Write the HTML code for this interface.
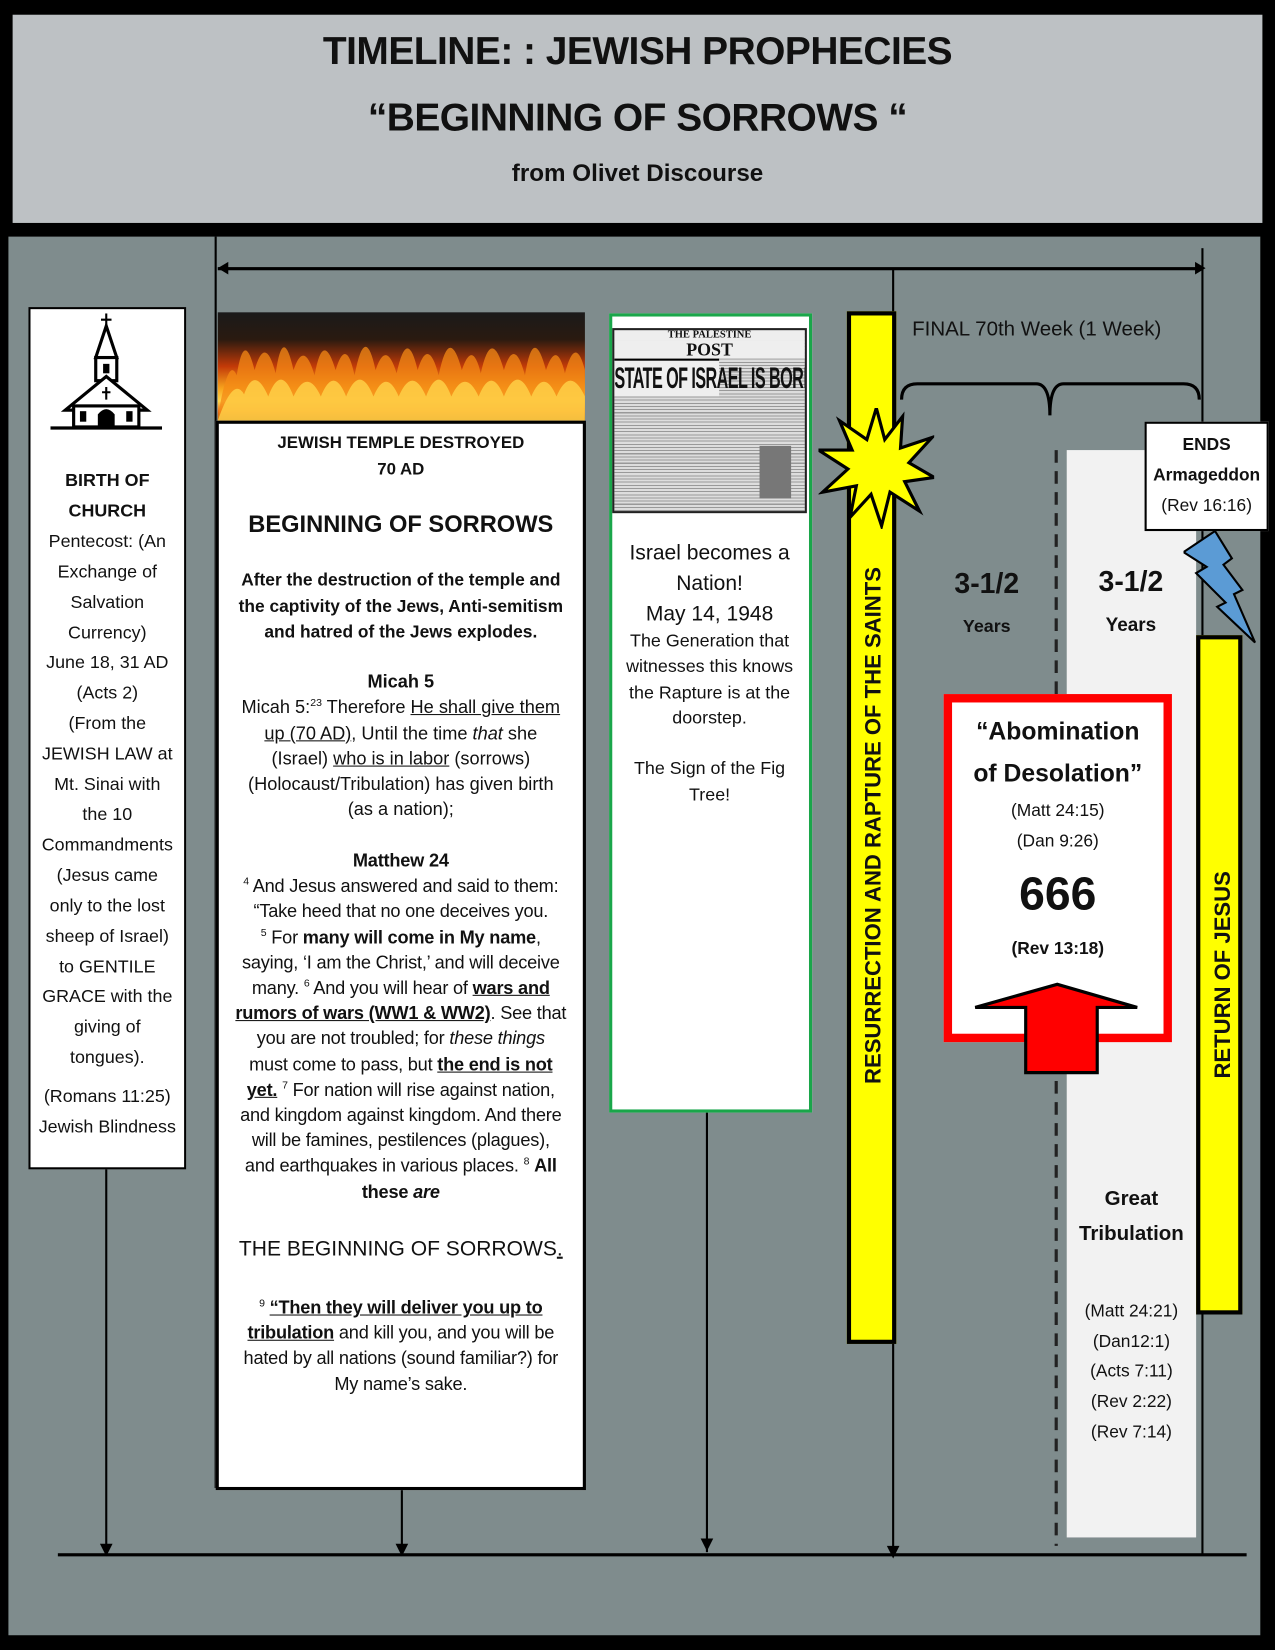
<!DOCTYPE html>
<html><head><meta charset="utf-8">
<style>
html,body{margin:0;padding:0;background:#000;}
body{width:1275px;height:1650px;overflow:hidden;position:relative;}
#w{position:absolute;left:0;top:0;width:1212px;height:1569px;transform:scale(1.052,1.0516);transform-origin:0 0;font-family:"Liberation Sans",sans-serif;color:#111;}
.a{position:absolute;}
.c{text-align:center;}
.b{font-weight:bold;}
.n{white-space:nowrap;}
u{text-decoration:underline;}
sup{font-size:10px;line-height:0;}
.vl{position:absolute;background:#000;width:2px;}
</style></head><body><div id="w">
<div class="a" style="left:12px;top:14px;width:1188px;height:198px;background:#bdc1c4;"></div>
<div class="a c b" style="left:12px;top:28px;width:1188px;font-size:37px;letter-spacing:-0.5px;">TIMELINE: : JEWISH PROPHECIES</div>
<div class="a c b" style="left:12px;top:91px;width:1188px;font-size:37px;letter-spacing:-0.5px;">“BEGINNING OF SORROWS “</div>
<div class="a c b" style="left:12px;top:151px;width:1188px;font-size:23px;">from Olivet Discourse</div>
<div class="a" style="left:8px;top:225px;width:1190px;height:1330px;background:#7f8c8d;"></div>
<div class="a" style="left:1014px;top:428px;width:123px;height:1034px;background:#f2f2f2;"></div>
<div class="vl" style="left:204px;top:225px;height:1190px;"></div>
<div class="vl" style="left:1142px;top:236px;height:1242px;"></div>
<div class="vl" style="left:848px;top:255px;height:1220px;"></div>
<div class="a" style="left:207px;top:254px;width:937px;height:3px;background:#000;"></div>
<div class="a" style="left:55px;top:1477px;width:1130px;height:3px;background:#000;"></div>
<div class="vl" style="left:100px;top:1110px;height:368px;"></div>
<div class="vl" style="left:381px;top:1414px;height:64px;"></div>
<div class="vl" style="left:671px;top:1056px;height:420px;"></div>
<svg class="a" style="left:0;top:0" width="1212" height="1569">
<polygon points="207,255 217,249 217,261" fill="#000"/>
<polygon points="1146,255 1136,249 1136,261" fill="#000"/>
<polygon points="101,1480 95,1468 107,1468" fill="#000"/>
<polygon points="382,1480 376,1468 388,1468" fill="#000"/>
<polygon points="672,1475 666,1463 678,1463" fill="#000"/>
<polygon points="849,1482 843,1470 855,1470" fill="#000"/>
<path d="M857,380 Q857,365 872,365 L985,365 Q998,365 998,395 Q998,365 1011,365 L1125,365 Q1140,365 1140,380" fill="none" stroke="#000" stroke-width="3"/>
<line x1="1004" y1="428" x2="1004" y2="1470" stroke="#222" stroke-width="3" stroke-dasharray="12,8"/>
</svg>
<div class="a" style="left:27px;top:292px;width:146px;height:816px;background:#fff;border:2px solid #000;"></div>
<svg class="a" style="left:48px;top:298px" width="108" height="112">
<line x1="53" y1="0" x2="53" y2="14" stroke="#000" stroke-width="2"/><line x1="48" y1="6" x2="58" y2="6" stroke="#000" stroke-width="2"/>
<polygon points="53,12 43,42 63,42" fill="#fff" stroke="#000" stroke-width="3"/>
<rect x="43" y="42" width="20" height="22" fill="#fff" stroke="#000" stroke-width="3"/>
<rect x="50" y="48" width="6" height="9" fill="#000"/>
<polygon points="53,60 14,92 92,92" fill="#fff" stroke="#000" stroke-width="3"/>
<rect x="22" y="88" width="62" height="20" fill="#fff" stroke="#000" stroke-width="3"/>
<path d="M45,108 V96 Q53,86 61,96 V108Z" fill="#000"/>
<rect x="28" y="93" width="6" height="10" fill="#000"/><rect x="72" y="93" width="6" height="10" fill="#000"/>
<line x1="0" y1="109" x2="106" y2="109" stroke="#000" stroke-width="3"/>
<line x1="53" y1="70" x2="53" y2="82" stroke="#000" stroke-width="2"/><line x1="49" y1="75" x2="57" y2="75" stroke="#000" stroke-width="2"/>
</svg>
<div class="a c n" style="left:29px;top:443px;width:146px;font-size:17px;line-height:28.9px;"><b>BIRTH OF<br>CHURCH</b><br>Pentecost: (An<br>Exchange of<br>Salvation<br>Currency)<br>June 18, 31 AD<br>(Acts 2)<br>(From the<br>JEWISH LAW at<br>Mt. Sinai with<br>the 10<br>Commandments<br>(Jesus came<br>only to the lost<br>sheep of Israel)<br>to GENTILE<br>GRACE with the<br>giving of<br>tongues).</div>
<div class="a c n" style="left:29px;top:1029px;width:146px;font-size:17px;line-height:28.9px;">(Romans 11:25)<br>Jewish Blindness</div>
<div class="a" style="left:207px;top:297px;width:349px;height:103px;background:linear-gradient(180deg,#1a1a1a 0%,#2a1a10 25%,#c33a08 50%,#f7a21c 70%,#ffd54a 82%,#e8661a 92%,#3a1a0a 100%);"></div>
<svg class="a" style="left:207px;top:297px" width="349" height="103">
<path d="M0,100 Q10,40 18,60 Q25,15 35,55 Q45,20 55,58 Q62,10 72,55 Q82,25 92,60 Q100,15 112,55 Q122,22 130,60 Q140,8 150,55 Q160,25 170,58 Q180,12 190,55 Q200,22 210,60 Q220,10 232,55 Q242,25 250,58 Q260,12 272,55 Q282,22 292,60 Q300,10 312,55 Q322,25 330,58 Q340,20 349,55 L349,103 L0,103Z" fill="#f48a16" opacity="0.75"/>
<path d="M0,103 Q15,60 25,78 Q35,50 48,80 Q60,48 72,80 Q85,52 98,80 Q110,50 122,80 Q135,48 148,80 Q160,52 172,80 Q185,50 198,80 Q210,48 222,80 Q235,52 248,80 Q260,50 272,80 Q285,48 298,80 Q310,52 322,80 Q335,50 349,80 L349,103Z" fill="#ffd34a" opacity="0.8"/>
</svg>
<div class="a" style="left:205px;top:400px;width:346px;height:1011px;background:#fff;border:3px solid #000;"></div>
<div class="a c b n" style="left:208px;top:409px;width:346px;font-size:16px;line-height:25px;">JEWISH TEMPLE DESTROYED<br>70 AD</div>
<div class="a c b n" style="left:208px;top:484px;width:346px;font-size:22.5px;line-height:30px;">BEGINNING OF SORROWS</div>
<div class="a c b n" style="left:208px;top:540px;width:346px;font-size:16.5px;line-height:24.5px;">After the destruction of the temple and<br>the captivity of the Jews, Anti-semitism<br>and hatred of the Jews explodes.</div>
<div class="a c n" style="left:208px;top:636px;width:346px;font-size:17.3px;line-height:24.3px;"><b>Micah 5</b><br>Micah 5:<sup>23</sup> Therefore <u>He shall give them</u><br><u>up (70 AD)</u>, Until the time <i>that</i> she<br>(Israel) <u>who is in labor</u> (sorrows)<br>(Holocaust/Tribulation) has given birth<br>(as a nation);</div>
<div class="a c n" style="left:208px;top:806px;width:346px;font-size:17.3px;line-height:24.2px;letter-spacing:-0.2px;"><b>Matthew 24</b><br><sup>4</sup> And Jesus answered and said to them:<br>“Take heed that no one deceives you.<br><sup>5</sup> For <b>many will come in My name</b>,<br>saying, ‘I am the Christ,’ and will deceive<br>many. <sup>6</sup> And you will hear of <b><u>wars and</u></b><br><b><u>rumors of wars (WW1 &amp; WW2)</u></b>. See that<br>you are not troubled; for <i>these things</i><br>must come to pass, but <b><u>the end is not</u></b><br><b><u>yet.</u></b> <sup>7</sup> For nation will rise against nation,<br>and kingdom against kingdom. And there<br>will be famines, pestilences (plagues),<br>and earthquakes in various places. <sup>8</sup> <b>All</b><br><b>these <i>are</i></b></div>
<div class="a c n" style="left:208px;top:1175px;width:346px;font-size:20px;line-height:26px;">THE BEGINNING OF SORROWS<u>.</u></div>
<div class="a c n" style="left:208px;top:1231px;width:346px;font-size:17.3px;line-height:24.2px;letter-spacing:-0.2px;"><sup>9</sup> <b><u>“Then they will deliver you up to</u></b><br><b><u>tribulation</u></b> and kill you, and you will be<br>hated by all nations (sound familiar?) for<br>My name’s sake.</div>
<div class="a" style="left:579px;top:298px;width:187px;height:754px;background:#fff;border:3px solid #1aa64a;"></div>
<div class="a" style="left:582px;top:312px;width:185px;height:176px;background:repeating-linear-gradient(180deg,#999 0 1px,#ddd 1px 3px);border:2px solid #222;box-sizing:border-box;overflow:hidden;">
<div class="c" style="font-family:'Liberation Serif',serif;font-weight:bold;font-size:10px;background:#eee;line-height:10px;">THE PALESTINE</div>
<div class="c" style="font-family:'Liberation Serif',serif;font-weight:bold;font-size:17px;background:#eee;line-height:17px;">POST</div>
<div style="font-family:'Liberation Sans',sans-serif;font-weight:bold;font-size:28px;letter-spacing:-1px;transform:scaleX(0.55);transform-origin:0 0;white-space:nowrap;background:#eee;line-height:34px;border-top:2px solid #000;">STATE OF ISRAEL IS BORN</div>
<div style="position:absolute;left:138px;top:110px;width:30px;height:50px;background:#777;"></div>
</div>
<div class="a c n" style="left:582px;top:512px;width:185px;font-size:20px;line-height:29px;">Israel becomes a<br>Nation!<br>May 14, 1948</div>
<div class="a c n" style="left:582px;top:598px;width:185px;font-size:17px;line-height:24.3px;">The Generation that<br>witnesses this knows<br>the Rapture is at the<br>doorstep.<br><br>The Sign of the Fig<br>Tree!</div>
<div class="a" style="left:805px;top:296px;width:39px;height:974px;background:#ff0;border:4px solid #000;"></div>
<div class="a b" style="left:831px;top:785px;width:0;height:0;"><div style="position:absolute;left:-270px;top:-12px;width:540px;text-align:center;font-size:21px;transform:rotate(-90deg);white-space:nowrap;line-height:24px;">RESURRECTION AND RAPTURE OF THE SAINTS</div></div>
<svg class="a" style="left:778px;top:388px" width="110" height="115">
<polygon points="55,0 63,30 80,8 78,38 108,28 86,52 110,66 82,70 96,98 68,80 60,112 50,82 30,104 36,74 4,80 28,58 0,40 32,40 20,12 46,30" fill="#ff0" stroke="#000" stroke-width="3"/>
</svg>
<div class="a" style="left:867px;top:302px;font-size:19.5px;">FINAL 70th Week (1 Week)</div>
<div class="a c" style="left:1088px;top:401px;width:118px;height:104px;background:#fff;border:2px solid #000;font-size:16.5px;line-height:29px;box-sizing:border-box;padding-top:6px;"><b>ENDS<br>Armageddon</b><br>(Rev 16:16)</div>
<svg class="a" style="left:1125px;top:503px" width="75" height="112">
<polygon points="30,2 0,22 22,36 12,42 40,70 32,74 68,108 48,62 56,58 38,34 46,28" fill="#5b9bd5" stroke="#000" stroke-width="2"/>
</svg>
<div class="a" style="left:1137px;top:604px;width:36px;height:638px;background:#ff0;border:4px solid #000;"></div>
<div class="a b" style="left:1163px;top:927px;width:0;height:0;"><div style="position:absolute;left:-150px;top:-12px;width:300px;text-align:center;font-size:21px;transform:rotate(-90deg);white-space:nowrap;line-height:24px;">RETURN OF JESUS</div></div>
<div class="a c b" style="left:888px;top:540px;width:100px;font-size:27px;">3-1/2</div>
<div class="a c b" style="left:888px;top:586px;width:100px;font-size:17px;">Years</div>
<div class="a c b" style="left:1025px;top:538px;width:100px;font-size:27px;">3-1/2</div>
<div class="a c b" style="left:1025px;top:584px;width:100px;font-size:18px;">Years</div>
<div class="a" style="left:897px;top:660px;width:201px;height:315px;background:#fff;border:8px solid #f00;"></div>
<div class="a c" style="left:905px;top:675px;width:201px;">
<div class="b" style="font-size:23.5px;line-height:40px;">“Abomination<br>of Desolation”</div>
<div style="font-size:16.5px;line-height:29px;margin-top:2px;">(Matt 24:15)<br>(Dan 9:26)</div>
<div class="b" style="font-size:44px;line-height:60px;margin-top:6px;">666</div>
<div class="b" style="font-size:16.5px;line-height:26px;margin-top:8px;">(Rev 13:18)</div>
</div>
<svg class="a" style="left:925px;top:932px" width="160" height="92">
<polygon points="80,4 156,26 118,26 118,88 50,88 50,26 2,26" fill="#f00" stroke="#000" stroke-width="3"/>
</svg>
<div class="a c b" style="left:1014px;top:1124px;width:123px;font-size:19.5px;line-height:33px;">Great<br>Tribulation</div>
<div class="a c" style="left:1014px;top:1233px;width:123px;font-size:16.5px;line-height:28.7px;">(Matt 24:21)<br>(Dan12:1)<br>(Acts 7:11)<br>(Rev 2:22)<br>(Rev 7:14)</div>
</div></body></html>
